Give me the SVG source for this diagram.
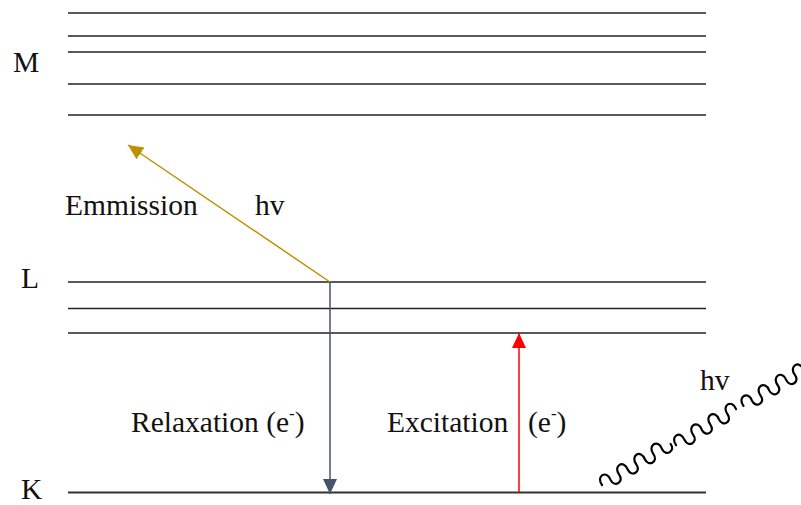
<svg xmlns="http://www.w3.org/2000/svg" width="801" height="505" viewBox="0 0 801 505">
<defs>
<style>
.lvl{stroke:#222;stroke-width:1.4;fill:none}
.t{font-family:"Liberation Serif","Times New Roman",serif;font-size:29.5px;fill:#111}
.wave{stroke:#000;stroke-width:2.2;fill:none;stroke-linecap:round}
</style>
<marker id="hGold" markerUnits="userSpaceOnUse" markerWidth="16" markerHeight="14" refX="15" refY="7" orient="auto"><path d="M0,0 L15,7 L0,14 Z" fill="#BF9000"/></marker>
<marker id="hBlue" markerUnits="userSpaceOnUse" markerWidth="16" markerHeight="14" refX="15" refY="7" orient="auto"><path d="M0,0 L15,7 L0,14 Z" fill="#44546A"/></marker>
<marker id="hRed" markerUnits="userSpaceOnUse" markerWidth="16" markerHeight="14" refX="15" refY="7" orient="auto"><path d="M0,0 L15,7 L0,14 Z" fill="#FF0000"/></marker>
</defs>
<rect width="801" height="505" fill="#fff"/>
<g id="levels">
<g id="M-shell">
<line class="lvl" x1="68" y1="13" x2="706" y2="13"/>
<line class="lvl" x1="68" y1="36" x2="706" y2="36"/>
<line class="lvl" x1="68" y1="52" x2="706" y2="52"/>
<line class="lvl" x1="68" y1="84" x2="706" y2="84"/>
<line class="lvl" x1="68" y1="115" x2="706" y2="115"/>
<text class="t" x="13" y="72">M</text>
</g>
<g id="L-shell">
<line class="lvl" x1="68" y1="282" x2="706" y2="282"/>
<line class="lvl" x1="68" y1="308.5" x2="706" y2="308.5"/>
<line class="lvl" x1="68" y1="333" x2="706" y2="333"/>
<text class="t" x="21" y="288">L</text>
</g>
<g id="K-shell">
<line class="lvl" x1="68" y1="492.5" x2="706" y2="492.5" style="stroke:#333;stroke-width:1.8"/>
<text class="t" x="21" y="499">K</text>
</g>
</g>
<g id="connectors">
<line x1="330" y1="282" x2="128" y2="145" stroke="#BF9000" stroke-width="1.5" marker-end="url(#hGold)"/>
<line x1="330" y1="282" x2="330" y2="494" stroke="#44546A" stroke-width="1.5" marker-end="url(#hBlue)"/>
<line x1="519" y1="492" x2="519" y2="333" stroke="#FF0000" stroke-width="1.5" marker-end="url(#hRed)"/>
</g>
<g id="photon-in" transform="translate(602,485) rotate(-31)">
<path class="wave" d="M0,0 c-1,-11 12,-11 10,0 c-1,9 11,9 10,0 c-1,-11 12,-11 10,0 c-1,9 11,9 10,0 c-1,-11 12,-11 10,0 c-1,9 11,9 10,0 c-1,-11 12,-11 10,0 c-1,9 11,9 10,0"/>
<path class="wave" d="M84,4 c-1,-11 12,-11 10,0 c-1,9 11,9 10,0 c-1,-11 12,-11 10,0 c-1,9 11,9 10,0 c-1,-11 12,-11 10,0 c-1,9 11,9 10,0 c-1,-11 12,-11 10,0"/>
<path class="wave" d="M162,5 c-1,-11 12,-11 10,0 c-1,9 11,9 10,0 c-1,-11 12,-11 10,0 c-1,9 11,9 10,0 c-1,-11 12,-11 10,0 c-1,9 11,9 10,0 c-1,-11 12,-11 10,0"/>
</g>
<g id="labels">
<text class="t" x="65" y="215">Emmission</text>
<text class="t" x="255" y="215">hv</text>
<text class="t" x="131" y="432">Relaxation (e<tspan font-size="17" dy="-13">-</tspan><tspan dy="13">)</tspan></text>
<text class="t" x="387" y="432">Excitation</text>
<text class="t" x="528" y="432">(e<tspan font-size="17" dy="-13">-</tspan><tspan dy="13">)</tspan></text>
<text class="t" x="700" y="390">hv</text>
</g>
</svg>
